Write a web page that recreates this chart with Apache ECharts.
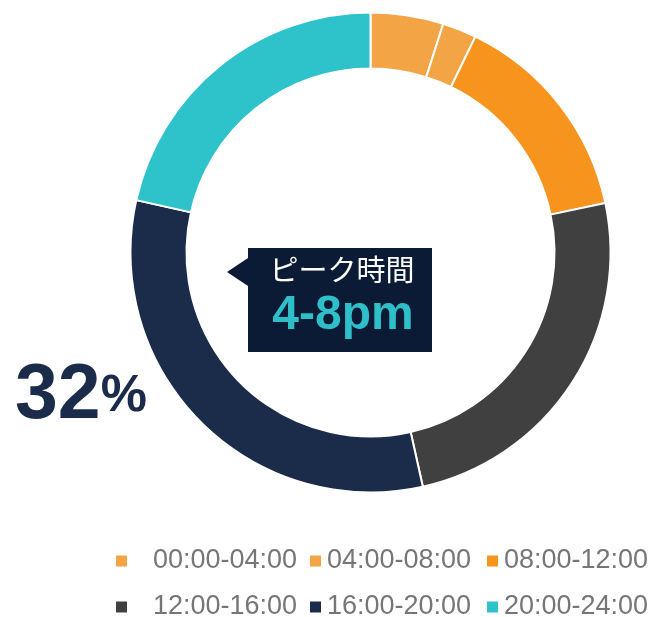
<!DOCTYPE html>
<html>
<head>
<meta charset="utf-8">
<script src="https://cdn.jsdelivr.net/npm/echarts@6/dist/echarts.min.js"></script>
<style>
  html, body { margin: 0; padding: 0; background: #ffffff; }
  #chart { width: 652px; height: 617px; }
</style>
</head>
<body>
<div id="chart"></div>
<script>
// Share of activity by four-hour time band (percent)
const timeBands = ['00:00-04:00', '04:00-08:00', '08:00-12:00', '12:00-16:00', '16:00-20:00', '20:00-24:00'];
const shares = [4.9, 2.3, 14.5, 24.8, 32, 21.5];
const peakIndex = 4;
const peakTitle = 'ピーク時間';
const peakRange = '4-8pm';

const palette = ['#F3A445', '#F3A445', '#F7941D', '#404040', '#1B2B4A', '#2EC3CB'];

const chart = echarts.init(document.getElementById('chart'), null, { renderer: 'canvas' });

// legend grid: two rows of three entries
const legendCols = [114, 308, 485];
const legendRows = [546, 592];
const legends = timeBands.map((name, i) => {
  const col = i % 3, row = Math.floor(i / 3);
  return {
    left: legendCols[col],
    top: legendRows[row],
    orient: 'horizontal',
    selectedMode: false,
    icon: 'rect',
    itemWidth: 13,
    itemHeight: 13,
    padding: 0,
    data: [{
      name: name,
      textStyle: col === 0 ? { padding: [0, 0, 0, 20] } : {}
    }],
    textStyle: {
      fontSize: 27,
      lineHeight: 30,
      color: '#767676',
      fontFamily: '"Liberation Sans", Arial, sans-serif'
    }
  };
});

chart.setOption({
  animation: false,
  backgroundColor: '#ffffff',
  color: palette,
  legend: legends,
  series: [{
    type: 'pie',
    center: [370.5, 252.5],
    radius: [184, 240],
    startAngle: 90,
    clockwise: true,
    silent: true,
    label: { show: false },
    labelLine: { show: false },
    itemStyle: { borderColor: '#ffffff', borderWidth: 2 },
    data: timeBands.map((name, i) => ({ name: name, value: shares[i] }))
  }],
  graphic: [
    // callout box with a pointer on its left side
    {
      type: 'polygon',
      shape: { points: [[248, 258], [227, 272], [248, 286]] },
      style: { fill: '#0B1A35' }
    },
    {
      type: 'rect',
      shape: { x: 248, y: 248, width: 184, height: 104 },
      style: { fill: '#0B1A35' }
    },
    {
      type: 'text',
      x: 342, y: 270,
      style: {
        text: peakTitle,
        fill: '#ffffff',
        font: '29px "Noto Sans CJK JP", sans-serif',
        align: 'center',
        verticalAlign: 'middle'
      }
    },
    {
      type: 'text',
      x: 343, y: 316,
      style: {
        text: peakRange,
        fill: '#2EBFC8',
        font: 'bold 48px "Liberation Sans", Arial, sans-serif',
        align: 'center',
        verticalAlign: 'middle'
      }
    },
    // peak share figure
    {
      type: 'text',
      x: 15, y: 358,
      style: {
        text: '{n|' + shares[peakIndex] + '}{p|%}',
        verticalAlign: 'top',
        rich: {
          n: { font: 'bold 77px "Liberation Sans", Arial, sans-serif', fill: '#1B2B4A' },
          p: { font: 'bold 52px "Liberation Sans", Arial, sans-serif', fill: '#1B2B4A' }
        }
      }
    }
  ]
});
</script>
</body>
</html>
